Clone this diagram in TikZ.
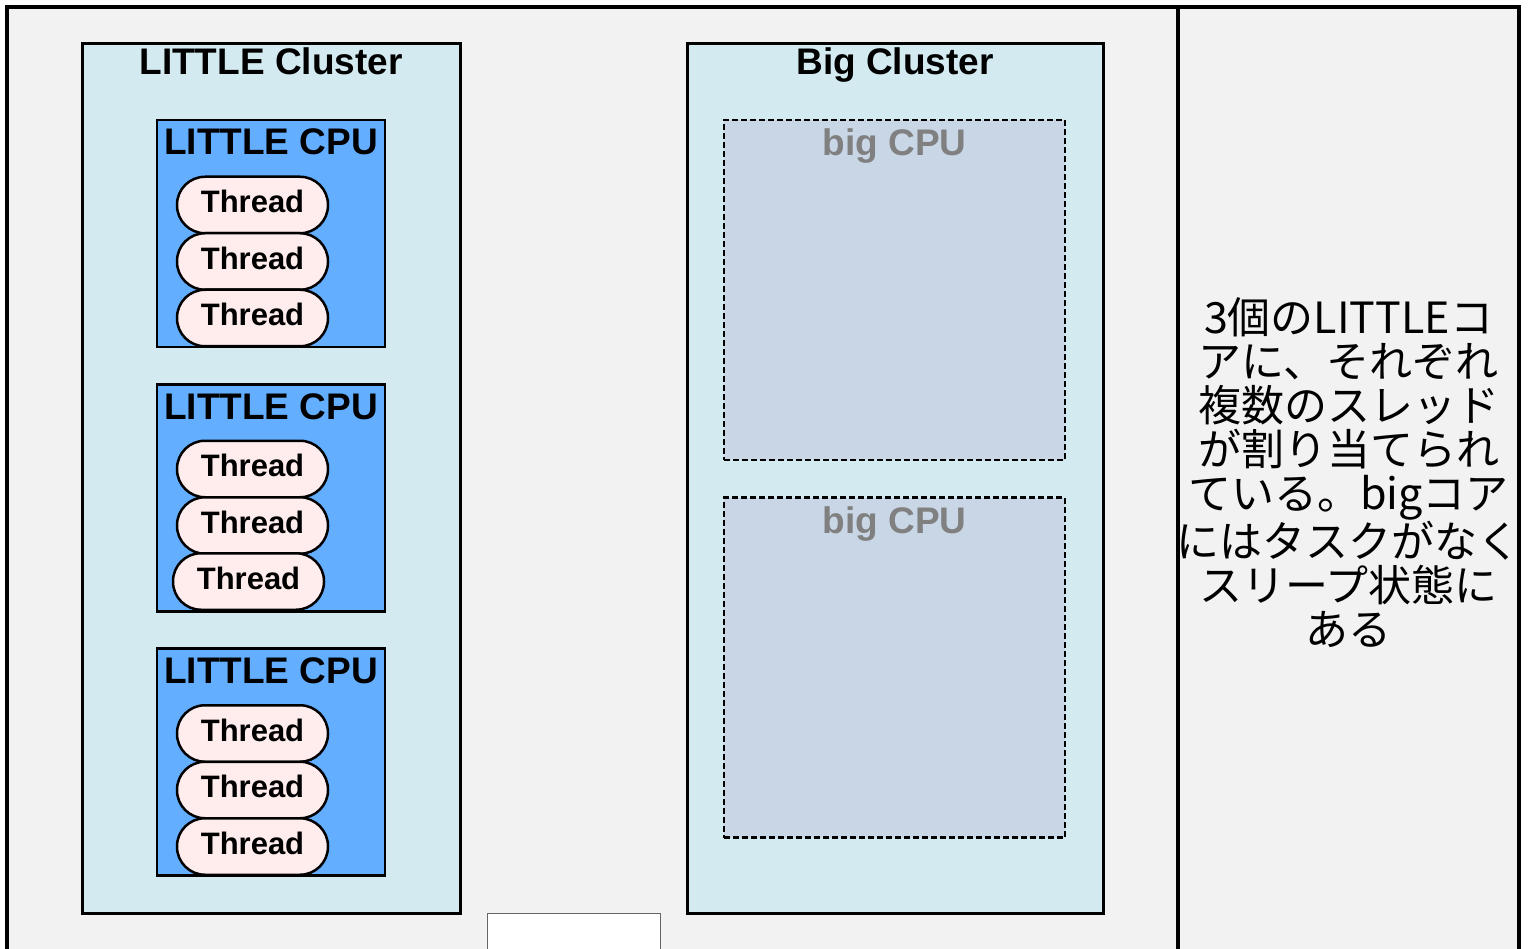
\documentclass[tikz,border=0pt]{standalone}
\usepackage{fontspec}
\setmainfont{Liberation Sans}
\newfontfamily\jpfont{Noto Sans CJK JP}

\definecolor{FrameBg}{HTML}{F2F2F2}
\definecolor{ClusterBg}{HTML}{D2EAF0}
\definecolor{CpuBg}{HTML}{63AEFF}
\definecolor{ThreadBg}{HTML}{FEEDEC}
\definecolor{BigCpuBg}{HTML}{C9D6E6}
\definecolor{BigCpuText}{HTML}{808080}
\definecolor{BlankLine}{HTML}{666666}

\begin{document}
\begin{tikzpicture}[x=1pt, y=-1pt]
	\tikzstyle{Cluster} = [draw=black, line width=3pt, fill=ClusterBg, minimum height=869pt, inner sep=0pt]
	\tikzstyle{Title} = [font=\fontsize{37}{37}\selectfont\bfseries, anchor=base, inner sep=0pt]
	\tikzstyle{Cpu} = [draw=black, line width=2.5pt, fill=CpuBg, minimum width=228pt, minimum height=227pt, inner sep=0pt, node distance=264.25pt]
	\tikzstyle{Thread} = [draw=black, line width=2.5pt, fill=ThreadBg, rounded corners=28pt, minimum width=151pt, minimum height=56.5pt, inner sep=0pt, text height=22.5pt, text depth=7pt, font=\fontsize{31}{31}\selectfont\bfseries, node distance=56.5pt]
	\tikzstyle{BigCpu} = [draw=black, line width=2.5pt, dash pattern=on 6pt off 3pt, fill=BigCpuBg, minimum width=341pt, minimum height=340pt, inner sep=0pt, node distance=377.5pt]
	
	\path[use as bounding box, clip] (0,0) rectangle (1528,949);
	\fill[white] (0,0) rectangle (1528,949);
	\draw[line width=3.5pt, fill=FrameBg] (7,7) rectangle (1519,990);
	
	% LITTLE side
	\node[name=lcl, Cluster, minimum width=378pt] at (271,478.5) {};
	\node[name=lcl_t, Title] at (271,75) {LITTLE Cluster};
	
	\node[name=c1, Cpu] at (271,233.5) {};
	\node[name=c2, below of=c1, Cpu] {};
	\node[name=c3, below of=c2, Cpu] {};
	\node[name=c1_t, Title] at ([yshift=-36pt]c1.north) {LITTLE CPU};
	\node[name=c2_t, Title] at ([yshift=-36pt]c2.north) {LITTLE CPU};
	\node[name=c3_t, Title] at ([yshift=-36pt]c3.north) {LITTLE CPU};
	
	\node[name=th1, Thread] at (252.5,205) {Thread};
	\node[name=th2, below of=th1, Thread] {Thread};
	\node[name=th3, below of=th2, Thread] {Thread};
	
	\node[name=th4, Thread] at (252.5,469) {Thread};
	\node[name=th5, below of=th4, Thread] {Thread};
	\node[name=th6, Thread] at (248.5,581.5) {Thread};
	
	\node[name=th7, Thread] at (252.5,733.5) {Thread};
	\node[name=th8, below of=th7, Thread] {Thread};
	\node[name=th9, below of=th8, Thread] {Thread};
	
	% big side
	\node[name=bcl, Cluster, minimum width=416pt] at (895,478.5) {};
	\node[name=bcl_t, Title] at (895,75) {Big Cluster};
	
	\node[name=b1, BigCpu] at (894.5,290) {};
	\node[name=b2, below of=b1, BigCpu] {};
	\node[name=b1_t, Title, text=BigCpuText] at ([yshift=-37pt]b1.north) {big CPU};
	\node[name=b2_t, Title, text=BigCpuText] at ([yshift=-37pt]b2.north) {big CPU};
	
	\node[name=blank, draw=BlankLine, line width=1pt, fill=white, minimum width=173pt, minimum height=60pt, inner sep=0pt, anchor=north west] at (487,913) {};
	
	% note
	\draw[line width=3.5pt] (1178,7) rectangle (1519,990);
	\node[name=note, align=center, inner sep=0pt, font=\jpfont\fontsize{43}{44}\selectfont] at (1348.5,473) {3個のLITTLEコ\\アに、それぞれ\\複数のスレッド\\が割り当てられ\\ている。bigコア\\にはタスクがなく\\スリープ状態に\\ある};
\end{tikzpicture}
\end{document}
